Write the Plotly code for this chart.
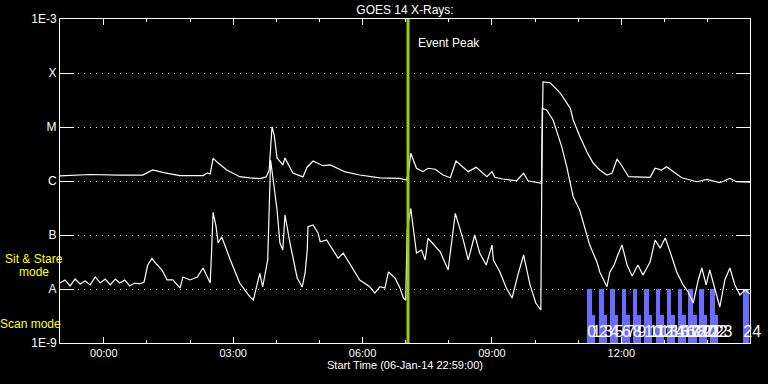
import pandas as pd
import plotly.graph_objects as go

START = pd.Timestamp("2014-01-06 22:59:00")

# Long channel (1-8 A): minutes after start, flux W/m^2
long_min = [0, 42, 83, 115, 129, 146, 167, 199, 205, 209, 213, 220, 232, 250, 264, 278, 287, 291,
            295, 298, 302, 310, 313, 324, 338, 344, 352, 366, 376, 397, 417, 445, 473, 482, 485,
            488, 496, 505, 512, 522, 533, 543, 551, 568, 579, 589, 594, 601, 605, 616, 635, 645,
            651, 670, 672, 682, 696, 710, 714, 723, 733, 742, 751, 761, 768, 775, 781, 791, 821,
            828, 837, 844, 865, 886, 900, 918, 932, 941, 960]
long_flux = [1.24e-6, 1.32e-6, 1.29e-6, 1.29e-6, 1.6e-6, 1.41e-6, 1.26e-6, 1.26e-6, 1.41e-6, 1.35e-6,
             2.63e-6, 2.15e-6, 1.6e-6, 1.2e-6, 1.14e-6, 1.11e-6, 1.19e-6, 1.6e-6,
             1.01e-5, 7.1e-6, 2.67e-6, 1.98e-6, 2.67e-6, 1.41e-6, 1.19e-6, 1.82e-6, 2.35e-6, 1.92e-6,
             1.98e-6, 1.47e-6, 1.29e-6, 1.14e-6, 1.12e-6, 1.04e-6, 1.47e-6,
             3.26e-6, 1.72e-6, 1.49e-6, 1.72e-6, 1.65e-6, 1.29e-6, 1.15e-6, 2.35e-6, 1.49e-6, 1.79e-6,
             1.39e-6, 1.2e-6, 1.49e-6, 1.17e-6, 1.09e-6, 1.01e-6, 1.39e-6,
             1.01e-6, 9.06e-7, 6.81e-5, 6.61e-5, 4.26e-5, 2.22e-5, 1.35e-5, 6.81e-6, 3.49e-6, 2.13e-6,
             1.6e-6, 1.29e-6, 1.39e-6, 2.55e-6, 1.98e-6, 1.2e-6, 1.17e-6,
             1.72e-6, 1.6e-6, 1.84e-6, 1.15e-6, 9.7e-7, 1.07e-6, 9.3e-7, 1.12e-6, 9.7e-7, 9.5e-7]

# Short channel (0.5-4 A)
short_min = [0, 7, 14, 21, 28, 35, 42, 49, 56, 63, 70, 77, 83, 90, 97, 104, 111, 117, 122, 128, 134,
             142, 149, 157, 167, 171, 181, 191, 199, 209, 211, 213, 217, 220, 225, 237, 250, 264, 269,
             278, 282, 289, 293, 296, 302, 306, 310, 313, 320, 330, 337, 341, 344, 345, 352, 359, 362,
             371, 380, 387, 394, 408, 417, 431, 438, 445, 452, 457, 466, 473, 478, 481, 483, 488, 492,
             496, 503, 508, 512, 529, 540, 550, 561, 568, 577, 584, 593, 601, 603, 612, 621, 629, 637,
             645, 654, 662, 669, 671, 677, 686, 698, 705, 714, 723, 737, 747, 751, 755, 761, 765, 771,
             776, 782, 789, 796, 804, 811, 821, 828, 835, 842, 849, 858, 867, 874, 881, 888, 893, 899,
             904, 911, 918, 925, 932, 939, 946, 953, 960]
short_flux = [1.29e-8, 1.47e-8, 1.14e-8, 1.53e-8, 1.24e-8, 1.41e-8, 1.19e-8, 1.67e-8, 1.29e-8, 1.53e-8,
              1.19e-8, 1.53e-8, 1.29e-8, 1.47e-8, 1.14e-8, 1.29e-8, 1.24e-8, 1.35e-8, 2.78e-8, 3.7e-8,
              2.9e-8, 2.25e-8, 1.47e-8, 1.47e-8, 1.04e-8, 1.67e-8, 1.47e-8, 1.67e-8, 2.45e-8, 1.29e-8,
              5.27e-8, 2.63e-7, 1.47e-7, 7.1e-8, 9.3e-8, 3.45e-8, 1.29e-8, 7.2e-9, 6.25e-9,
              1.95e-8, 1.1e-8, 3.45e-8, 2.45e-6, 1.2e-6, 2.9e-7, 7.1e-8, 5.27e-8, 2.35e-7, 7.1e-8,
              1.6e-8, 1.09e-8, 1.98e-8, 5.27e-8, 1.42e-7, 1.54e-7, 1.09e-7, 7.5e-8,
              8.1e-8, 5.27e-8, 3.7e-8, 4.64e-8, 2.25e-8, 1.47e-8, 1.1e-8, 8.42e-9, 1.1e-8, 1.04e-8,
              2.08e-8, 1.6e-8, 1.04e-8, 6.7e-9, 6.25e-9, 1.23e-7, 3.1e-7, 1.09e-7,
              4.64e-8, 5.27e-8, 3.45e-8, 8.7e-8, 4.9e-8, 2.25e-8, 2.52e-7, 8.1e-8, 3.45e-8, 1e-7,
              4.6e-8, 2.78e-8, 6.5e-8, 3.45e-8, 2.07e-8, 1.04e-8, 6.81e-9, 1.81e-8,
              4.26e-8, 1.19e-8, 5.5e-9, 4.08e-9, 2.22e-5, 2.07e-5, 1.35e-5, 4.32e-6, 1.84e-6, 5.12e-7,
              2.9e-7, 6.5e-8, 3.17e-8, 2.07e-8, 1.6e-8, 1.1e-8, 2.07e-8, 2.78e-8,
              4.26e-8, 6.5e-8, 2.78e-8, 1.74e-8, 2.78e-8, 1.81e-8, 3.17e-8, 8.1e-8, 5.7e-8, 8.8e-8,
              4.83e-8, 2.07e-8, 1.19e-8, 8.8e-9, 5.5e-9, 1.47e-8, 2.45e-8, 1.19e-8,
              2.25e-8, 9.6e-9, 4.64e-9, 1.47e-8, 2.45e-8, 1.19e-8, 7.74e-9, 9.6e-9, 8.1e-9]

# IRIS observations: start / end (minutes after start), top of bar (flux level), label
obs_start = [733.6, 740.1, 749.9, 756.4, 765.2, 771.7, 781.5, 788.0, 796.8, 803.3, 812.9, 819.4, 828.8,
             835.3, 844.1, 850.6, 859.4, 865.9, 874.2, 880.7, 889.0, 895.5, 904.3, 910.8, 950.7]
obs_end = [740.1, 745.0, 756.4, 761.3, 771.7, 776.6, 788.0, 792.9, 803.3, 808.2, 819.4, 824.3, 835.3,
           840.2, 850.6, 855.5, 865.9, 870.8, 880.7, 885.6, 895.5, 900.4, 910.8, 915.7, 958.0]
obs_top = [1e-8, 3.3e-9, 1e-8, 3.3e-9, 1e-8, 3.3e-9, 1e-8, 3.3e-9, 1e-8, 3.3e-9, 1e-8, 3.3e-9, 1e-8,
           3.3e-9, 1e-8, 3.3e-9, 1e-8, 3.3e-9, 1e-8, 3.3e-9, 1e-8, 3.3e-9, 1e-8, 3.3e-9, 1e-8]
obs_labels = [str(i) for i in range(25)]

event_peak_min = 484.2

y_tickvals = [1e-9, 1e-8, 1e-7, 1e-6, 1e-5, 1e-4, 1e-3]
y_ticktext = ["1E-9", "A", "B", "C", "M", "X", "1E-3"]


def tm(m):
    return START + pd.to_timedelta(m, unit="min")


BAR_BASE = 1e-9
FONT = "Liberation Sans"
L, R, T, B = 60, 18, 19, 41
PW, PH = 768 - L - R, 384 - T - B

fig = go.Figure()

fig.add_trace(go.Bar(
    x=[tm(s) for s in obs_start],
    y=[t - BAR_BASE for t in obs_top],
    base=[BAR_BASE] * len(obs_start),
    width=[(e - s) * 60000 for s, e in zip(obs_start, obs_end)],
    offset=0,
    marker=dict(color="#6b6bff", line=dict(width=0)),
    showlegend=False, hoverinfo="skip",
))

fig.add_trace(go.Scatter(
    x=[tm(s) for s in obs_start], y=[1.55e-9] * len(obs_start),
    mode="text", text=obs_labels, textposition="middle right",
    textfont=dict(color="white", size=16, family=FONT),
    showlegend=False, hoverinfo="skip", cliponaxis=False,
))

fig.add_trace(go.Scatter(
    x=[tm(m) for m in long_min], y=long_flux, mode="lines",
    line=dict(color="white", width=1.2), showlegend=False,
))
fig.add_trace(go.Scatter(
    x=[tm(m) for m in short_min], y=short_flux, mode="lines",
    line=dict(color="white", width=1.2), showlegend=False,
))

fig.add_shape(type="line", x0=tm(event_peak_min), x1=tm(event_peak_min), y0=0, y1=1,
              xref="x", yref="paper", line=dict(color="#a0c814", width=3))
fig.add_annotation(x=tm(event_peak_min), y=-3.44, xref="x", yref="y", text="Event Peak",
                   showarrow=False, xanchor="left", xshift=8,
                   font=dict(color="white", size=12, family=FONT))


def px_to_paper(x, y):
    return (x - L) / PW, (384 - B - y) / PH


for txt, px, py in [("Sit & Stare", 34, 259), ("mode", 34, 272), ("Scan mode", 30, 324)]:
    ax, ay = px_to_paper(px, py)
    fig.add_annotation(x=ax, y=ay, xref="paper", yref="paper", text=txt, showarrow=False,
                       xanchor="center", yanchor="middle",
                       font=dict(color="#ffff00", size=12, family=FONT))

fig.update_layout(
    width=768, height=384,
    margin=dict(l=L, r=R, t=T, b=B, autoexpand=False),
    paper_bgcolor="black", plot_bgcolor="black",
    font=dict(family=FONT, color="white", size=12),
    title=dict(text="GOES 14 X-Rays:", x=405 / 768, xanchor="center", y=1 - 10 / 384,
               yanchor="middle", yref="container", font=dict(size=12, color="white", family=FONT)),
    bargap=0,
)

fig.update_xaxes(
    type="date", range=[tm(0), tm(960)], automargin=False,
    tick0="2014-01-07 00:00:00", dtick=3 * 3600000, tickformat="%H:%M",
    ticks="inside", ticklen=6, tickcolor="white", tickwidth=1,
    minor=dict(dtick=3600000, ticks="inside", ticklen=3, tickcolor="white", showgrid=False),
    showline=True, linecolor="white", linewidth=1, mirror="ticks",
    showgrid=False, zeroline=False,
    tickfont=dict(size=11, color="white", family=FONT),
    title=dict(text="Start Time (06-Jan-14 22:59:00)", standoff=3,
               font=dict(size=11, color="white", family=FONT)),
)
fig.update_yaxes(
    type="log", range=[-9, -3], automargin=False,
    tickvals=y_tickvals, ticktext=y_ticktext,
    ticks="inside", ticklen=14, tickcolor="white", tickwidth=1,
    showline=True, linecolor="white", linewidth=1, mirror="ticks",
    showgrid=True, gridcolor="white", gridwidth=1, griddash="1px,5px",
    zeroline=False,
    tickfont=dict(size=12, color="white", family=FONT),
)

fig.write_html("out.html", config={"displayModeBar": False},
               post_script="document.body.style.margin='0';document.body.style.background='black';")
